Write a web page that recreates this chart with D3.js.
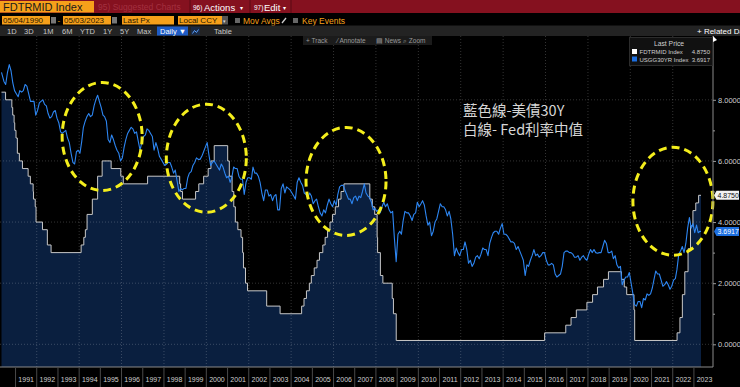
<!DOCTYPE html>
<html>
<head>
<meta charset="utf-8">
<script src="https://cdn.jsdelivr.net/npm/d3@7"></script>
<style>
  html, body { margin: 0; padding: 0; background: #000; overflow: hidden; }
  svg { display: block; font-family: 'Liberation Sans', Arial, sans-serif; }
</style>
</head>
<body>
<svg id="chart" width="740" height="387"></svg>
<script>
// ---- data ----
const startDate = new Date(1990, 4, 4);
const endDate = new Date(2023, 4, 3);

// USGG30YR, one reading per month from May 1990 to May 2023
const ust30Monthly = [
  8.9, 8.6, 8.5, 8.9, 9.15, 8.95, 8.55, 8.3, // 1990
  8.2, 8.1, 8.3, 8.25, 8.3, 8.5, 8.45, 8.2, 7.95, 7.95, 7.95, 7.5, // 1991
  7.65, 7.9, 7.95, 8.0, 7.85, 7.8, 7.55, 7.4, 7.45, 7.6, 7.65, 7.4, // 1992
  7.25, 6.95, 6.9, 6.95, 7.0, 6.75, 6.6, 6.25, 5.95, 5.9, 6.3, 6.35, // 1993
  6.25, 6.65, 7.1, 7.3, 7.45, 7.55, 7.45, 7.5, 7.8, 8.0, 8.15, 7.95, // 1994
  7.75, 7.5, 7.45, 7.3, 6.7, 6.6, 6.85, 6.7, 6.5, 6.35, 6.25, 6.0, // 1995
  6.1, 6.45, 6.7, 6.9, 7.0, 7.1, 7.05, 6.9, 6.95, 6.65, 6.35, 6.6, // 1996
  6.8, 6.85, 7.05, 7.0, 6.9, 6.8, 6.35, 6.6, 6.4, 6.15, 6.05, 5.95, // 1997
  5.85, 5.9, 5.95, 5.95, 5.8, 5.6, 5.7, 5.35, 5.0, 5.1, 5.05, 5.1, // 1998
  5.1, 5.45, 5.6, 5.65, 5.85, 5.95, 6.1, 6.05, 6.05, 6.15, 6.3, 6.45, // 1999
  6.6, 6.2, 5.85, 5.95, 6.0, 5.9, 5.8, 5.7, 5.9, 5.8, 5.6, 5.45, // 2000
  5.5, 5.3, 5.45, 5.8, 5.75, 5.75, 5.5, 5.4, 5.4, 4.9, 5.3, 5.45, // 2001
  5.45, 5.4, 5.8, 5.6, 5.6, 5.5, 5.3, 4.95, 4.7, 5.05, 5.05, 4.85, // 2002
  4.9, 4.7, 4.85, 4.9, 4.4, 4.4, 5.1, 5.25, 4.95, 5.15, 5.1, 5.05, // 2003
  4.95, 4.85, 4.75, 5.3, 5.45, 5.3, 5.2, 4.95, 4.9, 4.8, 4.95, 4.85, // 2004
  4.6, 4.7, 4.75, 4.5, 4.3, 4.2, 4.4, 4.3, 4.55, 4.75, 4.6, 4.5, // 2005
  4.7, 4.55, 4.9, 5.15, 5.2, 5.2, 5.05, 4.9, 4.75, 4.75, 4.6, 4.8, // 2006
  4.85, 4.7, 4.85, 4.8, 5.0, 5.25, 4.95, 4.85, 4.8, 4.65, 4.4, 4.45, // 2007
  4.35, 4.4, 4.3, 4.5, 4.65, 4.5, 4.6, 4.4, 4.3, 4.35, 3.45, 2.7, // 2008
  3.6, 3.7, 3.6, 4.05, 4.35, 4.3, 4.3, 4.2, 4.05, 4.25, 4.3, 4.65, // 2009
  4.5, 4.6, 4.7, 4.55, 4.2, 3.9, 4.0, 3.55, 3.7, 4.0, 4.1, 4.35, // 2010
  4.6, 4.5, 4.5, 4.4, 4.2, 4.35, 4.1, 3.6, 2.9, 3.15, 3.0, 2.9, // 2011
  3.1, 3.1, 3.35, 3.1, 2.65, 2.75, 2.55, 2.65, 2.85, 2.9, 2.8, 2.95, // 2012
  3.15, 3.1, 3.1, 2.9, 3.3, 3.5, 3.65, 3.7, 3.7, 3.6, 3.8, 3.95, // 2013
  3.6, 3.6, 3.55, 3.45, 3.35, 3.35, 3.3, 3.1, 3.2, 3.05, 2.9, 2.75, // 2014
  2.25, 2.6, 2.55, 2.75, 2.9, 3.1, 2.9, 2.95, 2.85, 2.9, 3.0, 3.0, // 2015
  2.75, 2.6, 2.6, 2.65, 2.6, 2.3, 2.2, 2.25, 2.3, 2.55, 3.0, 3.05, // 2016
  3.05, 3.0, 3.0, 2.95, 2.85, 2.85, 2.9, 2.75, 2.85, 2.9, 2.8, 2.75, // 2017
  2.95, 3.1, 3.0, 3.1, 3.0, 2.98, 3.0, 3.0, 3.2, 3.4, 3.3, 3.0, // 2018
  3.0, 3.05, 2.8, 2.9, 2.6, 2.5, 2.55, 1.95, 2.1, 2.2, 2.2, 2.35, // 2019
  2.0, 1.65, 1.3, 1.25, 1.4, 1.4, 1.2, 1.5, 1.45, 1.65, 1.6, 1.65, // 2020
  1.85, 2.15, 2.4, 2.3, 2.3, 2.1, 1.9, 1.95, 2.05, 1.95, 1.8, 1.9, // 2021
  2.1, 2.15, 2.45, 2.95, 3.05, 3.2, 3.0, 3.3, 3.8, 4.15, 3.8, 3.95, // 2022
  3.65, 3.9, 3.65, 3.7, 3.6917 // 2023
];

// FDTRMID, date of each change and the new level
const fedDates = [
  '1990-05-04', '1990-07-13', '1990-10-29', '1990-11-13', '1990-12-07', '1990-12-18',
  '1991-01-09', '1991-02-01', '1991-03-08', '1991-04-30', '1991-08-06', '1991-09-13',
  '1991-10-31', '1991-11-06', '1991-12-06', '1991-12-20', '1992-04-09', '1992-07-02',
  '1992-09-04', '1994-02-04', '1994-03-22', '1994-04-18', '1994-05-17', '1994-08-16',
  '1994-11-15', '1995-02-01', '1995-07-06', '1995-12-19', '1996-01-31', '1997-03-25',
  '1998-09-29', '1998-10-15', '1998-11-17', '1999-06-30', '1999-08-24', '1999-11-16',
  '2000-02-02', '2000-03-21', '2000-05-16', '2001-01-03', '2001-01-31', '2001-03-20',
  '2001-04-18', '2001-05-15', '2001-06-27', '2001-08-21', '2001-09-17', '2001-10-02',
  '2001-11-06', '2001-12-11', '2002-11-06', '2003-06-25', '2004-06-30', '2004-08-10',
  '2004-09-21', '2004-11-10', '2004-12-14', '2005-02-02', '2005-03-22', '2005-05-03',
  '2005-06-30', '2005-08-09', '2005-09-20', '2005-11-01', '2005-12-13', '2006-01-31',
  '2006-03-28', '2006-05-10', '2006-06-29', '2007-09-18', '2007-10-31', '2007-12-11',
  '2008-01-22', '2008-01-30', '2008-03-18', '2008-04-30', '2008-10-08', '2008-10-29',
  '2008-12-16', '2015-12-17', '2016-12-15', '2017-03-16', '2017-06-15', '2017-12-14',
  '2018-03-22', '2018-06-14', '2018-09-27', '2018-12-20', '2019-08-01', '2019-09-19',
  '2019-10-31', '2020-03-04', '2020-03-16', '2022-03-17', '2022-05-05', '2022-06-16',
  '2022-07-28', '2022-09-22', '2022-11-03', '2022-12-15', '2023-02-02', '2023-03-23',
  '2023-05-03'
];
const fedValues = [
  8.25, 8.0, 7.75, 7.5, 7.25, 7.0,
  6.75, 6.25, 6.0, 5.75, 5.5, 5.25,
  5.0, 4.75, 4.5, 4.0, 3.75, 3.25,
  3.0, 3.25, 3.5, 3.75, 4.25, 4.75,
  5.5, 6.0, 5.75, 5.5, 5.25, 5.5,
  5.25, 5.0, 4.75, 5.0, 5.25, 5.5,
  5.75, 6.0, 6.5, 6.0, 5.5, 5.0,
  4.5, 4.0, 3.75, 3.5, 3.0, 2.5,
  2.0, 1.75, 1.25, 1.0, 1.25, 1.5,
  1.75, 2.0, 2.25, 2.5, 2.75, 3.0,
  3.25, 3.5, 3.75, 4.0, 4.25, 4.5,
  4.75, 5.0, 5.25, 4.75, 4.5, 4.25,
  3.5, 3.0, 2.25, 2.0, 1.5, 1.0,
  0.125, 0.375, 0.625, 0.875, 1.125, 1.375,
  1.625, 1.875, 2.125, 2.375, 2.125, 1.875,
  1.625, 1.125, 0.125, 0.375, 0.875, 1.625,
  2.375, 3.125, 3.875, 4.375, 4.625, 4.875,
  4.875
];

const yTicks = [0, 2, 4, 6, 8];
const yMinorTicks = [1, 3, 5, 7];
const lastFed = 4.875;
const lastUst = 3.6917;

// yellow rings drawn over the chart (centre date, centre level)
const ringDates = ['1995-02-01', '2000-01-01', '2006-08-04', '2022-01-04'];
const ringLevels = [6.8, 6.09, 5.33, 4.68];

const noteLines = ['藍色線-美債30Y', '白線- Fed利率中值'];
const noteDate = '2012-02-10';
const noteLevels = [7.46, 6.84];

// ---- layout ----
const W = 740, H = 387;
const plotTop = 36, plotBottom = 367, plotRight = 713;
const parse = d3.timeParse('%Y-%m-%d');

const svg = d3.select('#chart');

const x = d3.scaleTime().domain([startDate, endDate]).range([1.5, 701]);
const y = d3.scaleLinear().domain([0, 8]).range([344.3, 99.8]);

const ust = ust30Monthly.map((v, i) => {
  let d = new Date(1990, 4 + i, 15);
  if (i === 0) d = startDate;
  if (i === ust30Monthly.length - 1) d = endDate;
  return { date: d, value: v };
});
const fed = fedDates.map((d, i) => ({ date: parse(d), value: fedValues[i] }));

svg.append('rect').attr('width', W).attr('height', H).attr('fill', '#000');

svg.append('defs').append('clipPath').attr('id', 'plot-clip')
  .append('rect').attr('x', 0).attr('y', plotTop)
  .attr('width', plotRight).attr('height', plotBottom - plotTop);

const plot = svg.append('g').attr('clip-path', 'url(#plot-clip)');

// fed area
plot.append('path')
  .datum(fed)
  .attr('d', d3.area().curve(d3.curveStepAfter)
    .x(d => x(d.date)).y0(plotBottom).y1(d => y(d.value)))
  .attr('fill', '#0a1f3f');

// grid
const grid = plot.append('g')
  .attr('stroke', 'rgba(255,255,255,0.2)')
  .attr('stroke-dasharray', '1,2');
grid.selectAll('.hg').data(yTicks).join('line')
  .attr('x1', 0).attr('x2', plotRight)
  .attr('y1', d => y(d)).attr('y2', d => y(d));
const gridYears = d3.range(1992, 2023, 2).map(yr => new Date(yr, 0, 1));
grid.selectAll('.vg').data(gridYears).join('line')
  .attr('x1', d => x(d)).attr('x2', d => x(d))
  .attr('y1', plotTop).attr('y2', plotBottom);

plot.append('path')
  .datum(fed)
  .attr('d', d3.line().curve(d3.curveStepAfter).x(d => x(d.date)).y(d => y(d.value)))
  .attr('fill', 'none').attr('stroke', '#c8c8c8').attr('stroke-width', 1);

plot.append('path')
  .datum(ust)
  .attr('d', d3.line().x(d => x(d.date)).y(d => y(d.value)))
  .attr('fill', 'none').attr('stroke', '#2d86f2').attr('stroke-width', 1.1)
  .attr('stroke-linejoin', 'round');

// notes
noteLines.forEach((t, i) => {
  svg.append('text')
    .attr('x', x(parse(noteDate))).attr('y', y(noteLevels[i]))
    .attr('fill', '#d6d6d6')
    .style('font-family', "'Noto Sans CJK TC', 'Noto Sans', sans-serif")
    .style('font-size', '14.5px')
    .text(t);
});

svg.selectAll('.ring').data(ringDates).join('ellipse')
  .attr('cx', d => x(parse(d)))
  .attr('cy', (d, i) => y(ringLevels[i]))
  .attr('rx', 40).attr('ry', 54)
  .attr('fill', 'none').attr('stroke', '#f4ee1c')
  .attr('stroke-width', 3).attr('stroke-dasharray', '8,5');

// frame
svg.append('path')
  .attr('d', `M0,${plotBottom}H${plotRight}V${plotTop}`)
  .attr('fill', 'none').attr('stroke', '#8a8a8a').attr('stroke-width', 1);
svg.append('path')
  .attr('d', `M${plotRight},${plotTop}v6l4,-2z`)
  .attr('fill', '#fff');

// right axis
const yAxisG = svg.append('g')
  .attr('transform', `translate(${plotRight},0)`)
  .call(d3.axisRight(y).tickValues(yTicks).tickFormat(d3.format('.4f')).tickSize(3).tickPadding(2));
yAxisG.select('.domain').remove();
yAxisG.selectAll('line').attr('stroke', '#9a9a9a');
yAxisG.selectAll('text').attr('fill', '#cfcfcf')
  .style('font-size', '7.5px').style('font-family', "'Liberation Sans', Arial");
const yMinorG = svg.append('g')
  .attr('transform', `translate(${plotRight},0)`)
  .call(d3.axisRight(y).tickValues(yMinorTicks).tickFormat('').tickSize(2));
yMinorG.select('.domain').remove();
yMinorG.selectAll('line').attr('stroke', '#9a9a9a');

// last price tags
const tag = (v, bg, fg, label) => {
  const g = svg.append('g').attr('transform', `translate(${plotRight + 1},${y(v)})`);
  g.append('path').attr('d', 'M0,0L2.5,-4.5H25V4.5H2.5Z').attr('fill', bg);
  g.append('text').attr('x', 3.5).attr('y', 2.6).attr('fill', fg)
    .style('font-size', '7px').text(label);
};
tag(lastFed, '#f2f2f2', '#111', d3.format('.4f')(lastFed));
tag(lastUst, '#1d6fe0', '#fff', d3.format('.4f')(lastUst));

// year axis
const yearStarts = d3.range(1991, 2024).map(yr => new Date(yr, 0, 1));
svg.selectAll('.ysep').data(yearStarts).join('line')
  .attr('x1', d => x(d)).attr('x2', d => x(d))
  .attr('y1', plotBottom + 1).attr('y2', H)
  .attr('stroke', '#4a4a4a');
svg.selectAll('.ylab').data(yearStarts).join('text')
  .attr('x', d => (x(d) + x(d3.timeYear.offset(d, 1))) / 2)
  .attr('y', 382)
  .attr('text-anchor', 'middle')
  .attr('fill', '#cfcfcf')
  .style('font-size', '7px')
  .text(d => d.getFullYear());

// legend
const lg = svg.append('g');
lg.append('rect').attr('x', 629.5).attr('y', 37.5).attr('width', 83).attr('height', 28)
  .attr('fill', '#111').attr('stroke', '#2c2c2c');
lg.append('text').attr('x', 669).attr('y', 46).attr('text-anchor', 'middle')
  .attr('fill', '#cfcfcf').style('font-size', '6.8px').text('Last Price');
[['FDTRMID Index', lastFed, '#ffffff'], ['USGG30YR Index', lastUst, '#1d6fe0']].forEach((r, i) => {
  const yy = 49 + i * 7.5;
  lg.append('rect').attr('x', 632).attr('y', yy).attr('width', 5).attr('height', 5).attr('fill', r[2]);
  lg.append('text').attr('x', 639.5).attr('y', yy + 5).attr('fill', '#cfcfcf')
    .style('font-size', '6px').text(r[0]);
  lg.append('text').attr('x', 710).attr('y', yy + 5).attr('text-anchor', 'end').attr('fill', '#cfcfcf')
    .style('font-size', '6px').text(d3.format('.4f')(r[1]));
});

// ---- terminal header ----
const hd = svg.append('g');
hd.append('rect').attr('x', 0).attr('y', 0).attr('width', W).attr('height', 13).attr('fill', '#85111f');
hd.append('rect').attr('x', 0).attr('y', 1).attr('width', 94).attr('height', 11.5).attr('fill', '#f6a01a');
hd.append('text').attr('x', 3).attr('y', 10.5).attr('fill', '#1a1a1a')
  .style('font-size', '11px').text('FDTRMID Index');
hd.append('text').attr('x', 98).attr('y', 10).attr('fill', '#a3303f')
  .style('font-size', '8.5px').text('95) Suggested Charts');
[190, 250, 291].forEach(sx => hd.append('line').attr('x1', sx).attr('x2', sx)
  .attr('y1', 0).attr('y2', 13).attr('stroke', '#5a0a14'));
hd.append('text').attr('x', 193).attr('y', 10).attr('fill', '#fff').style('font-size', '6.5px').text('96)');
hd.append('text').attr('x', 204).attr('y', 10.5).attr('fill', '#fff').style('font-size', '9.5px').text('Actions');
hd.append('text').attr('x', 240).attr('y', 10).attr('fill', '#fff').style('font-size', '6px').text('▾');
hd.append('text').attr('x', 254).attr('y', 10).attr('fill', '#fff').style('font-size', '6.5px').text('97)');
hd.append('text').attr('x', 264).attr('y', 10.5).attr('fill', '#fff').style('font-size', '9.5px').text('Edit');
hd.append('text').attr('x', 283).attr('y', 10).attr('fill', '#fff').style('font-size', '6px').text('▾');

// row 2: inputs
const inputs = [[2, 48, '05/04/1990'], [63, 48, '05/03/2023'], [122, 52, 'Last Px'], [178, 44, 'Local CCY']];
inputs.forEach(b => {
  hd.append('rect').attr('x', b[0]).attr('y', 16).attr('width', b[1]).attr('height', 8.5).attr('fill', '#f6a01a');
  hd.append('text').attr('x', b[0] + 1).attr('y', 23.3).attr('fill', '#2a1800')
    .style('font-size', '8px').text(b[2]);
});
[51, 112].forEach(ix => hd.append('rect').attr('x', ix).attr('y', 17).attr('width', 5).attr('height', 6.5).attr('fill', '#777'));
hd.append('text').attr('x', 57.5).attr('y', 23).attr('fill', '#f6a01a').style('font-size', '8px').text('-');
hd.append('rect').attr('x', 222).attr('y', 16).attr('width', 6).attr('height', 8.5).attr('fill', '#555');
hd.append('text').attr('x', 223).attr('y', 22.5).attr('fill', '#ddd').style('font-size', '5px').text('▾');
[[235, 243, 'Mov Avgs'], [293, 302, 'Key Events']].forEach(c => {
  hd.append('rect').attr('x', c[0]).attr('y', 18).attr('width', 5).attr('height', 5).attr('fill', '#666');
  hd.append('text').attr('x', c[1]).attr('y', 23.5).attr('fill', '#f6a01a').style('font-size', '8.5px').text(c[2]);
});
hd.append('line').attr('x1', 282).attr('y1', 23).attr('x2', 286).attr('y2', 18)
  .attr('stroke', '#ccc').attr('stroke-width', 1.3);

// row 3: ranges
hd.append('rect').attr('x', 0).attr('y', 25.5).attr('width', W).attr('height', 10.5).attr('fill', '#232323');
[[7, '1D'], [24, '3D'], [43, '1M'], [62, '6M'], [80, 'YTD'], [103, '1Y'], [120, '5Y'], [137, 'Max'], [214, 'Table']]
  .forEach(t => hd.append('text').attr('x', t[0]).attr('y', 33.5).attr('fill', '#c8c8c8')
    .style('font-size', '7.5px').text(t[1]));
hd.append('rect').attr('x', 157).attr('y', 26.5).attr('width', 31).attr('height', 9).attr('fill', '#1e5cc6');
hd.append('text').attr('x', 160).attr('y', 33.5).attr('fill', '#fff').style('font-size', '7.5px').text('Daily ▼');
hd.append('rect').attr('x', 191).attr('y', 27).attr('width', 9).attr('height', 8).attr('fill', '#1a2a44');
hd.append('path').attr('d', 'M192.5,33.5l2,-3l2,2l2,-3').attr('fill', 'none').attr('stroke', '#5aa0ff');
hd.append('text').attr('x', 697).attr('y', 33.5).attr('fill', '#fff').style('font-size', '8px').text('+ Related Data');

// row 4: chart tools
hd.append('rect').attr('x', 303).attr('y', 36).attr('width', 129).attr('height', 9).attr('fill', '#1b1b1b');
[[306, '+ Track'], [337, '⁄ Annotate'], [376, '▤ News'], [403, '⌕ Zoom']]
  .forEach(t => hd.append('text').attr('x', t[0]).attr('y', 43).attr('fill', '#9a9a9a')
    .style('font-size', '6.5px').text(t[1]));
</script>
</body>
</html>
